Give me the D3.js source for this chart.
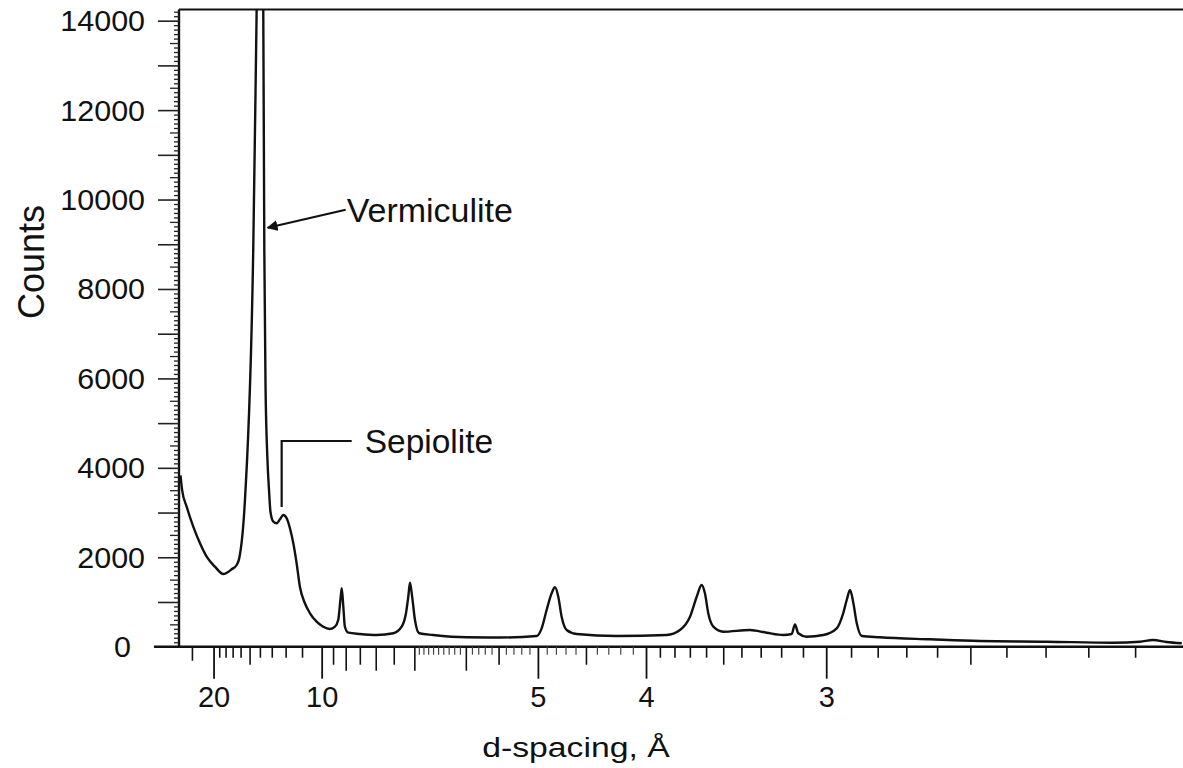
<!DOCTYPE html>
<html>
<head>
<meta charset="utf-8">
<script src="https://cdn.jsdelivr.net/npm/d3@7"></script>
<style>
  html, body { margin: 0; padding: 0; background: #fff; }
  svg { display: block; }
  text { font-family: "Liberation Sans", Arial, sans-serif; fill: #111; }
</style>
</head>
<body>
<svg id="chart" width="1183" height="768"></svg>
<script>
// XRD pattern: d-spacing (Å) vs counts
const dSpacing = [
  28.8, 28.2, 26.62, 24.62, 22.87, 21.36, 19.74, 18.35, 17.13, 16.48, 16.16,
  15.50, 14.63, 14.30, 13.99, 13.70, 13.61, 13.51, 13.345, 13.22, 13.10,
  12.88, 12.63, 12.39, 12.16, 11.93, 11.72, 11.51, 11.31, 11.12, 10.84, 10.57,
  10.24, 9.93, 9.63, 9.42, 9.29, 9.19, 9.15, 9.09, 9.03, 8.90, 8.50, 7.97,
  7.51, 7.30, 7.195, 7.14, 7.10, 7.05, 6.986, 6.89, 6.60, 5.99, 5.48, 5.014,
  4.957, 4.901, 4.846, 4.810, 4.775, 4.740, 4.688, 4.589, 4.230, 3.853, 3.764,
  3.699, 3.657, 3.627, 3.607, 3.587, 3.557, 3.500, 3.355, 3.270, 3.190, 3.151,
  3.136, 3.121, 3.084, 3.012, 2.957, 2.931, 2.917, 2.904, 2.891, 2.878, 2.859,
  2.792, 2.622, 2.473, 2.297, 2.146, 2.090, 2.064, 2.038, 2.009
];
const counts = [
  3830, 3500, 3131, 2684, 2312, 2013, 1789, 1626, 1731, 1827, 1977,
  3281, 8872, 14239, 19500, 14239, 8872, 5897, 4175, 3504, 3012,
  2796, 2760, 2849, 2945, 2872, 2648, 2312, 1865, 1342, 971, 747,
  559, 447, 396, 447, 597, 1118, 1306, 895, 447, 313, 284, 262,
  300, 447, 747, 1118, 1431, 1118, 597, 300, 262, 210, 205, 239,
  411, 821, 1194, 1328, 1118, 671, 373, 284, 239, 262, 373,
  671, 1118, 1380, 1194, 747, 447, 335, 373, 313, 262, 284,
  500, 300, 224, 262, 411, 747, 1044, 1268, 971, 523, 239,
  210, 165, 127, 112, 89, 112, 150, 105, 76
];

// axis ticks
const yTickValues = [0, 2000, 4000, 6000, 8000, 10000, 12000, 14000];
const xTickLabels = [20, 10, 5, 4, 3];
const xTickLong = [9, 8, 7, 6];
const xTickMid = [15, 9.5, 8.5, 7.5, 5.5, 4.5, 3.5, 2.5];
const xTickShortWide = [25];
const xTickMinor = [19, 18, 17, 16, 14, 13, 12, 11,
  3.9, 3.8, 3.7, 3.6, 3.4, 3.3, 3.2, 3.1, 2.9, 2.8, 2.7, 2.6, 2.4, 2.3, 2.2, 2.1];
const xTickFine = d3.range(41, 70).map(v => v / 10)
  .filter(v => v !== 5 && v !== 6 && v !== 5.5 && v !== 4.5);

// annotations
const annotations = [
  { label: "Vermiculite", d: 13.41, counts: 9370 },
  { label: "Sepiolite", d: 12.27, counts: 3124 }
];

(function draw() {
  const svg = d3.select("#chart");
  const W = 1183, H = 768;
  const plotLeft = 179, plotTop = 9.5, plotBottom = 646.7;

  // x position is linear in reciprocal d-spacing
  const x = d3.scaleLinear().domain([1 / 29, 1 / 2]).range([180, 1186.6]);
  const y = d3.scaleLinear().domain([0, 14250]).range([plotBottom, plotTop]);
  const xd = d => x(1 / d);

  svg.append("rect").attr("width", W).attr("height", H).attr("fill", "#fff");

  const defs = svg.append("defs");
  defs.append("clipPath").attr("id", "plotClip")
    .append("rect").attr("x", plotLeft).attr("y", plotTop)
    .attr("width", W - plotLeft).attr("height", plotBottom - plotTop);
  defs.append("marker")
    .attr("id", "arrowHead").attr("viewBox", "0 0 10 10")
    .attr("refX", 9).attr("refY", 5)
    .attr("markerWidth", 5).attr("markerHeight", 5)
    .attr("orient", "auto")
    .append("path").attr("d", "M0,0 L10,5 L0,10 z").attr("fill", "#111");

  // pattern trace
  const pts = dSpacing.map((d, i) => [xd(d), y(counts[i])]);
  svg.append("path")
    .datum(pts)
    .attr("clip-path", "url(#plotClip)")
    .attr("fill", "none")
    .attr("stroke", "#111")
    .attr("stroke-width", 2.4)
    .attr("stroke-linejoin", "round")
    .attr("d", d3.line().curve(d3.curveMonotoneX));

  // frame: top and left
  svg.append("line").attr("x1", plotLeft).attr("x2", W).attr("y1", plotTop).attr("y2", plotTop)
    .attr("stroke", "#111").attr("stroke-width", 2);
  svg.append("line").attr("x1", plotLeft).attr("x2", plotLeft).attr("y1", plotTop).attr("y2", plotBottom)
    .attr("stroke", "#111").attr("stroke-width", 2.4);

  // y axis ticks
  function yTicks(values, size, width) {
    const g = svg.append("g").attr("transform", `translate(${plotLeft},0)`)
      .call(d3.axisLeft(y).tickValues(values).tickSize(size).tickFormat(""));
    g.select(".domain").remove();
    g.selectAll(".tick line").attr("stroke", "#222").attr("stroke-width", width);
    return g;
  }
  const y100 = d3.range(100, 14250, 100).filter(v => v % 500 !== 0);
  const y500 = d3.range(500, 14250, 500).filter(v => v % 1000 !== 0);
  const y1000 = d3.range(1000, 14250, 1000);
  yTicks(y100, 5, 1.3);
  yTicks(y500, 9, 1.3);
  yTicks(y1000, 21, 1.6);

  // y labels
  svg.append("g").selectAll("text")
    .data(yTickValues)
    .join("text")
    .attr("transform", v => `translate(${v === 0 ? 131 : 145},${y(v)}) scale(1.05,1)`)
    .attr("dy", "0.36em")
    .attr("text-anchor", "end")
    .attr("font-size", 29)
    .text(v => v);

  // x axis baseline
  svg.append("line").attr("x1", 154).attr("x2", W).attr("y1", plotBottom).attr("y2", plotBottom)
    .attr("stroke", "#111").attr("stroke-width", 2.4);

  function xTicks(values, size, width, color) {
    const g = svg.append("g").attr("transform", `translate(0,${plotBottom})`)
      .call(d3.axisBottom(x).tickValues(values.map(d => 1 / d)).tickSize(size).tickFormat(""));
    g.select(".domain").remove();
    g.selectAll(".tick line").attr("stroke", color || "#111").attr("stroke-width", width);
    return g;
  }
  xTicks(xTickFine, 8, 1.2, "#444");
  xTicks(xTickMinor, 11, 1.6);
  xTicks(xTickShortWide, 14, 1.6);
  xTicks(xTickMid, 18, 1.6);
  xTicks(xTickLong, 24, 1.6);
  const major = xTicks(xTickLabels, 32, 1.8);
  major.selectAll(".tick").append("text")
    .attr("y", 60)
    .attr("text-anchor", "middle")
    .attr("font-size", 29)
    .attr("fill", "#111")
    .text((q, i) => xTickLabels[i]);

  // axis titles
  svg.append("text")
    .attr("transform", "translate(576,757) scale(1.25,1)")
    .attr("text-anchor", "middle")
    .attr("font-size", 27)
    .text("d-spacing, Å");

  svg.append("text")
    .attr("transform", "translate(44,262) rotate(-90)")
    .attr("text-anchor", "middle")
    .attr("font-size", 36)
    .text("Counts");

  // annotations
  const verm = annotations[0];
  const vx = xd(verm.d), vy = y(verm.counts);
  svg.append("line")
    .attr("x1", vx + 79).attr("y1", vy - 18)
    .attr("x2", vx + 1).attr("y2", vy)
    .attr("stroke", "#111").attr("stroke-width", 2.2)
    .attr("marker-end", "url(#arrowHead)");
  svg.append("text")
    .attr("x", vx + 80).attr("y", vy - 6)
    .attr("font-size", 34)
    .text(verm.label);

  const sep = annotations[1];
  const sx = xd(sep.d), sy = y(sep.counts);
  svg.append("path")
    .attr("d", `M${sx},${sy} V${sy - 66} H${sx + 70}`)
    .attr("fill", "none")
    .attr("stroke", "#111").attr("stroke-width", 2.2);
  svg.append("text")
    .attr("x", sx + 83).attr("y", sy - 54)
    .attr("font-size", 33.5)
    .text(sep.label);
})();
</script>
</body>
</html>
